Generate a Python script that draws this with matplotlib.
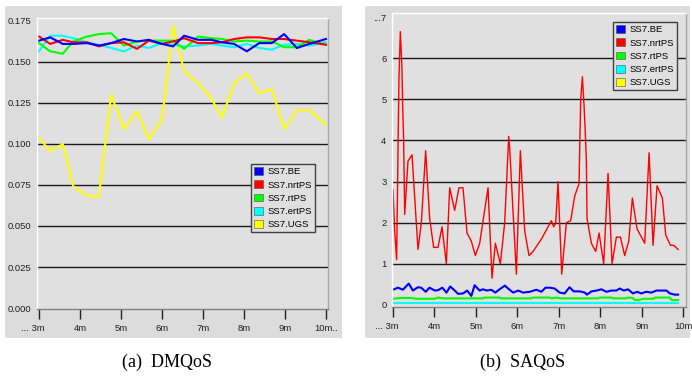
import matplotlib.pyplot as plt
from matplotlib.patches import Patch, Rectangle
from matplotlib.transforms import ScaledTranslation

plt.rcParams['font.family'] = ['Liberation Sans', 'DejaVu Sans']

# ---- data: (a) DMQoS, sampled every ~18 s, time in minutes
dm_time = [3.0, 3.27, 3.58, 3.83, 4.17, 4.46, 4.76, 5.07, 5.39, 5.68, 6.0, 6.27,
           6.54, 6.88, 7.2, 7.46, 7.76, 8.07, 8.37, 8.68, 8.98, 9.29, 9.59, 10.0]
dm_be = [0.163, 0.165, 0.161, 0.161, 0.1615, 0.160, 0.1615, 0.164, 0.1625, 0.1635,
         0.161, 0.1595, 0.166, 0.1635, 0.1635, 0.162, 0.161, 0.1565, 0.1615, 0.1615,
         0.167, 0.1585, 0.161, 0.164]
dm_nrtps = [0.1655, 0.161, 0.1635, 0.162, 0.162, 0.1595, 0.1615, 0.162, 0.158, 0.163,
            0.161, 0.1625, 0.1645, 0.1615, 0.1615, 0.162, 0.164, 0.165, 0.165, 0.164,
            0.164, 0.163, 0.162, 0.1605]
dm_rtps = [0.1615, 0.1565, 0.155, 0.1625, 0.1655, 0.167, 0.1675, 0.160, 0.1625, 0.163,
           0.163, 0.163, 0.158, 0.1655, 0.1645, 0.164, 0.1625, 0.163, 0.1625, 0.1625,
           0.159, 0.159, 0.1635, 0.1605]
dm_ertps = [0.1565, 0.166, 0.166, 0.1645, 0.162, 0.1605, 0.1585, 0.1565, 0.160, 0.1585,
            0.1615, 0.1605, 0.1595, 0.160, 0.161, 0.160, 0.159, 0.161, 0.1585, 0.1575,
            0.1605, 0.161, 0.160, 0.162]
dm_ugs = [0.1037, 0.0957, 0.100, 0.0744, 0.0683, 0.068, 0.130, 0.109, 0.120, 0.103,
          0.115, 0.172, 0.1445, 0.137, 0.128, 0.116, 0.137, 0.143, 0.131, 0.1335,
          0.109, 0.1207, 0.1207, 0.1116]

# ---- data: (b) SAQoS
sa_red_time = [3.0, 3.04, 3.088, 3.129, 3.145, 3.177, 3.217, 3.233, 3.257, 3.282, 3.362,
               3.459, 3.603, 3.684, 3.788, 3.885, 3.981, 4.086, 4.183, 4.287, 4.368,
               4.488, 4.593, 4.689, 4.786, 4.891, 4.987, 5.092, 5.293, 5.389, 5.47,
               5.59, 5.695, 5.792, 5.816, 5.977, 6.073, 6.178, 6.282, 6.379, 6.58,
               6.741, 6.821, 6.878, 6.926, 6.982, 7.071, 7.183, 7.288, 7.385, 7.489,
               7.529, 7.57, 7.61, 7.642, 7.666, 7.682, 7.787, 7.891, 7.972, 8.084,
               8.189, 8.286, 8.39, 8.487, 8.591, 8.688, 8.776, 8.889, 9.074, 9.179,
               9.275, 9.372, 9.5, 9.581, 9.693, 9.774, 9.879]
sa_nrtps = [2.8, 1.8, 1.1, 4.4, 5.55, 6.65, 5.75, 4.85, 4.0, 2.2, 3.5,
            3.65, 1.35, 2.0, 3.75, 2.1, 1.4, 1.4, 1.9, 1.0, 2.85,
            2.3, 2.85, 2.85, 1.75, 1.55, 1.2, 1.5, 2.85, 0.65, 1.5,
            1.0, 2.0, 4.1, 3.8, 0.75, 3.75, 1.8, 1.2, 1.3, 1.6,
            1.9, 2.05, 1.9, 2.0, 3.0, 0.75, 2.0, 2.05, 2.65, 2.95,
            5.0, 5.55, 4.85, 4.15, 3.5, 2.1, 1.5, 1.3, 1.75, 1.0,
            3.2, 1.0, 1.65, 1.65, 1.2, 1.55, 2.6, 1.85, 1.5, 3.7,
            1.45, 2.9, 2.6, 1.7, 1.45, 1.45, 1.35]

sa_blue_time = [3.00, 3.12, 3.24, 3.38, 3.48, 3.60, 3.68, 3.79, 3.88, 4.01, 4.09, 4.19,
                4.29, 4.38, 4.49, 4.57, 4.69, 4.79, 4.89, 4.97, 5.09, 5.17, 5.27, 5.37,
                5.47, 5.57, 5.70, 5.80, 5.90, 6.02, 6.14, 6.30, 6.46, 6.58, 6.68, 6.78,
                6.90, 7.02, 7.14, 7.26, 7.36, 7.51, 7.63, 7.68, 7.79, 7.91, 8.03, 8.15,
                8.27, 8.39, 8.47, 8.57, 8.67, 8.79, 8.89, 8.99, 9.11, 9.23, 9.36, 9.48,
                9.60, 9.68, 9.80, 9.88]
sa_be = [0.37, 0.42, 0.37, 0.52, 0.35, 0.43, 0.42, 0.32, 0.42, 0.35, 0.36, 0.42,
         0.30, 0.45, 0.35, 0.27, 0.28, 0.35, 0.22, 0.48, 0.35, 0.38, 0.35, 0.37,
         0.30, 0.38, 0.47, 0.38, 0.30, 0.35, 0.30, 0.32, 0.37, 0.32, 0.42, 0.42,
         0.40, 0.30, 0.28, 0.43, 0.33, 0.33, 0.30, 0.25, 0.33, 0.35, 0.38, 0.32,
         0.35, 0.35, 0.40, 0.35, 0.38, 0.28, 0.32, 0.28, 0.32, 0.30, 0.35, 0.35,
         0.35, 0.28, 0.25, 0.25]

sa_green_time = [3.00, 3.16, 3.44, 3.56, 4.01, 4.09, 4.21, 5.17, 5.21, 5.57, 5.61, 6.34,
                 6.38, 6.78, 6.82, 6.94, 7.06, 7.95, 7.99, 8.27, 8.31, 8.63, 8.67, 8.79,
                 8.83, 8.95, 9.03, 9.28, 9.32, 9.68, 9.72, 9.88]
sa_rtps = [0.15, 0.17, 0.17, 0.15, 0.15, 0.18, 0.16, 0.16, 0.18, 0.18, 0.16, 0.16,
           0.18, 0.18, 0.16, 0.18, 0.16, 0.16, 0.18, 0.18, 0.16, 0.16, 0.18, 0.17,
           0.12, 0.12, 0.15, 0.15, 0.18, 0.18, 0.12, 0.12]

sa_cyan_time = [3.0, 9.88]
sa_ertps = [0.04, 0.04]

series_names = ['SS7.BE', 'SS7.nrtPS', 'SS7.rtPS', 'SS7.ertPS', 'SS7.UGS']
series_colors = ['#0000ff', '#ff0000', '#00ff00', '#00ffff', '#ffff00']

x_ticks = [3, 4, 5, 6, 7, 8, 9, 10]
dm_x_labels = ['... 3m', '4m', '5m', '6m', '7m', '8m', '9m', '10m..']
sa_x_labels = ['... 3m', '4m', '5m', '6m', '7m', '8m', '9m', '10m']
dm_y_ticks = [0.0, 0.025, 0.05, 0.075, 0.1, 0.125, 0.15, 0.175]
dm_y_labels = ['0.000', '0.025', '0.050', '0.075', '0.100', '0.125', '0.150', '0.175']
sa_y_ticks = [0, 1, 2, 3, 4, 5, 6, 7]
sa_y_labels = ['0', '1', '2', '3', '4', '5', '6', '...7']

W, H = 692, 379
PANEL = '#dcdcdc'
PLOT_BG = '#e0e0e0'
FS = 6.8

fig = plt.figure(figsize=(W / 100, H / 100), dpi=100)


def px_rect(x0, y0, x1, y1):
    """figure fraction box from pixel corners (top-left origin)"""
    return [x0 / W, 1 - y1 / H, (x1 - x0) / W, (y1 - y0) / H]


# grey panels behind each chart
for x0, x1 in [(5, 342), (365, 690)]:
    b = px_rect(x0, 6, x1, 338)
    fig.patches.append(Rectangle((b[0], b[1]), b[2], b[3], transform=fig.transFigure,
                                 facecolor=PANEL, edgecolor='none', zorder=-1))


def style_axes(ax, xlim, ylim, yticks, ylabels, grid_vals, xlabels):
    ax.set_facecolor(PLOT_BG)
    ax.set_xlim(*xlim)
    ax.set_ylim(*ylim)
    ax.set_xticks(x_ticks)
    ax.set_xticklabels(xlabels)
    ax.set_yticks(yticks)
    ax.set_yticklabels(ylabels)
    ax.tick_params(axis='y', length=0, pad=4, labelsize=FS, colors='#202020')
    ax.tick_params(axis='x', length=7, width=1, direction='out', pad=4,
                   labelsize=FS, colors='#202020')
    ax.spines['left'].set_color('white')
    ax.spines['top'].set_color('white')
    ax.spines['right'].set_color('#a8a8a8')
    ax.spines['bottom'].set_color('#808080')
    for s in ax.spines.values():
        s.set_linewidth(1)
    for g in grid_vals:
        ax.axhline(g, color='#1a1a1a', lw=1, zorder=1)
    # first label: "..." hangs to the left of the tick
    first = ax.get_xticklabels()[0]
    first.set_ha('right')
    first.set_transform(first.get_transform() + ScaledTranslation(6 / 100, 0, fig.dpi_scale_trans))


def add_legend(ax, x, y):
    handles = [Patch(facecolor=c, edgecolor='#505050', lw=0.4) for c in series_colors]
    leg = ax.legend(handles, series_names, loc='upper left', bbox_to_anchor=(x / W, 1 - y / H),
                    bbox_transform=fig.transFigure, borderaxespad=0, fontsize=FS,
                    frameon=True, fancybox=False, framealpha=1, facecolor=PLOT_BG,
                    edgecolor='#404040', handlelength=0.9, handleheight=0.9,
                    handletextpad=0.5, labelspacing=0.42, borderpad=0.35)
    leg.get_frame().set_linewidth(1)
    leg.set_zorder(5)


# ---- (a) DMQoS
ax1 = fig.add_axes(px_rect(37, 18, 328, 309))
style_axes(ax1, (2.95, 10.05), (-0.0006, 0.1768), dm_y_ticks, dm_y_labels,
           dm_y_ticks[1:7], dm_x_labels)
ax1.plot(dm_time, dm_ugs, color=series_colors[4], lw=1.5, zorder=2)
ax1.plot(dm_time, dm_ertps, color=series_colors[3], lw=1.5, zorder=2)
ax1.plot(dm_time, dm_rtps, color=series_colors[2], lw=1.5, zorder=2)
ax1.plot(dm_time, dm_nrtps, color=series_colors[1], lw=1.5, zorder=2)
ax1.plot(dm_time, dm_be, color=series_colors[0], lw=1.5, zorder=2)
add_legend(ax1, 251, 164)

# ---- (b) SAQoS
ax2 = fig.add_axes(px_rect(392, 13, 686, 307))
style_axes(ax2, (2.976, 10.07), (-0.05, 7.1), sa_y_ticks, sa_y_labels,
           sa_y_ticks[1:7], sa_x_labels)
ax2.plot(sa_cyan_time, sa_ertps, color=series_colors[3], lw=1.5, zorder=2)
ax2.plot(sa_green_time, sa_rtps, color=series_colors[2], lw=1.5, zorder=2)
ax2.plot(sa_red_time, sa_nrtps, color=series_colors[1], lw=1.0, zorder=2)
ax2.plot(sa_blue_time, sa_be, color=series_colors[0], lw=1.5, zorder=2)
add_legend(ax2, 613, 22)

# captions
fig.text(167 / W, 1 - 362 / H, '(a)  DMQoS', ha='center', va='center',
         fontsize=13, family=['Liberation Serif', 'DejaVu Serif'])
fig.text(523 / W, 1 - 362 / H, '(b)  SAQoS', ha='center', va='center',
         fontsize=13, family=['Liberation Serif', 'DejaVu Serif'])

fig.savefig('out.png', dpi=100, facecolor='white')
